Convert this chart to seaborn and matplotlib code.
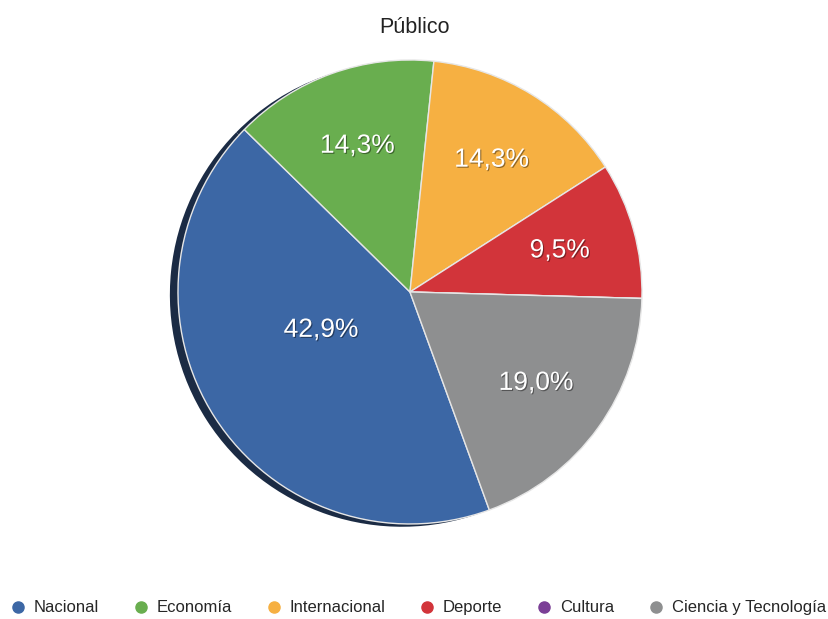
import matplotlib
matplotlib.use("Agg")
import matplotlib.pyplot as plt
import matplotlib.patheffects as pe
from matplotlib.lines import Line2D
import seaborn as sns

categories = ["Nacional", "Economía", "Internacional", "Deporte", "Cultura", "Ciencia y Tecnología"]
values = [42.9, 14.3, 14.3, 9.5, 0.0, 19.0]
colors = ["#3C67A5", "#69AE4F", "#F6B042", "#D2343A", "#7B3F96", "#8E8F90"]
title = "Público"

sns.set_theme(style="white")
plt.rcParams["font.family"] = ["Liberation Sans", "DejaVu Sans"]


def fmt(p):
    if p < 0.05:
        return ""
    return f"{p:.1f}%".replace(".", ",")


fig = plt.figure(figsize=(8.29, 6.19), dpi=100)
ax = fig.add_axes([0.2147, 0.1535, 0.5597, 0.7496])

# dark drop shadow (3D look) drawn first
ax.pie(
    values,
    colors=["#1B2B44"] * len(values),
    startangle=-70,
    counterclock=False,
    center=(-0.035, -0.012),
    wedgeprops={"linewidth": 0},
)

wedges, texts, autotexts = ax.pie(
    values,
    colors=colors,
    startangle=-70,
    counterclock=False,
    autopct=fmt,
    pctdistance=0.67,
    wedgeprops={"edgecolor": "#e6e6e6", "linewidth": 1},
    textprops={"color": "white", "fontsize": 19},
)
ax.set_xlim(-1, 1)
ax.set_ylim(-1, 1)
ax.set_aspect("equal")

# Nacional label sits closer to the centre
x, y = autotexts[0].get_position()
autotexts[0].set_position((x * 0.68, y * 0.45))

for t in autotexts:
    t.set_path_effects([
        pe.SimplePatchShadow(offset=(0.8, -0.8), shadow_rgbFace="black", alpha=0.4),
        pe.Normal(),
    ])

fig.text(0.5, 0.955, title, ha="center", va="center", fontsize=15.5, color="#222222")

handles = [
    Line2D([], [], marker="o", linestyle="", markersize=8, markerfacecolor=c, markeredgecolor=c)
    for c in colors
]
fig.legend(
    handles, categories,
    loc="center", bbox_to_anchor=(0.505, 0.018), ncol=6, frameon=False,
    fontsize=12, handlelength=0.8, handletextpad=0.55, columnspacing=2.1,
)

fig.savefig("out.png", dpi=100)
